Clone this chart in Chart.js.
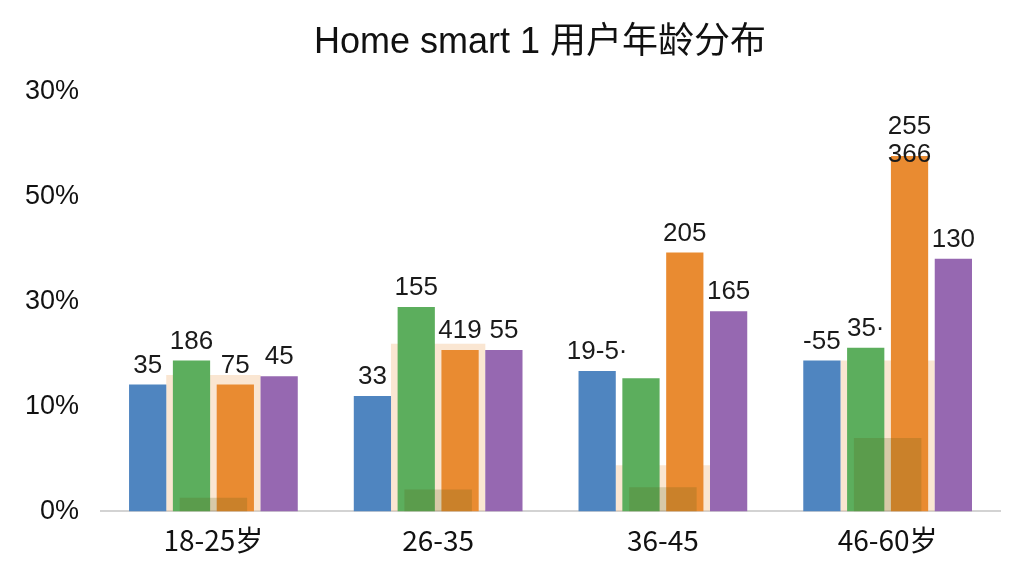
<!DOCTYPE html>
<html><head><meta charset="utf-8">
<script src="https://cdn.jsdelivr.net/npm/chart.js@4.4.1/dist/chart.umd.min.js"></script>
<style>html,body{margin:0;padding:0;background:#fff}#wrap{width:1024px;height:576px}</style>
</head><body><div id="wrap"><canvas id="c" width="1024" height="576"></canvas></div>
<script>
const titleText = "Home smart 1 用户年龄分布";
const categories = ["18-25岁", "26-35", "36-45", "46-60岁"];
const yTickLabels = ["0%", "10%", "30%", "50%", "30%"];
const blueValues = [12.1, 11.0, 13.4, 14.4];
const greenValues = [14.4, 19.5, 12.7, 15.6];
const orangeValues = [12.1, 15.4, 24.7, 33.9];
const purpleValues = [12.9, 15.4, 19.1, 24.1];
const peachValues = [13.0, 16.0, 4.4, 14.4];
const shadeValues = [1.3, 2.1, 2.3, 7.0];
const blueLabels = ["35", "33", "19-5·", "-55"];
const greenLabels = ["186", "155", "", "35·"];
const orangeLabels = [["75"], ["419"], ["205"], ["255", "366"]];
const purpleLabels = ["45", "55", "165", "130"];

const SANS = "'Liberation Sans', Arial, 'Noto Sans CJK SC', sans-serif";
const NARROW = "'Liberation Sans Narrow', 'Arial Narrow', 'Noto Sans CJK SC', sans-serif";

const titlePlugin = {
  id: 'ownTitle',
  afterDraw(chart) {
    const ctx = chart.ctx;
    ctx.save();
    ctx.font = "36px " + SANS;
    ctx.fillStyle = "#111";
    ctx.textAlign = "center";
    ctx.textBaseline = "middle";
    ctx.fillText(titleText, 540, 43);
    ctx.restore();
  }
};

const labelPlugin = {
  id: 'barLabels',
  afterDatasetsDraw(chart) {
    const ctx = chart.ctx;
    ctx.save();
    ctx.font = "26px " + SANS;
    ctx.fillStyle = "#1a1a1a";
    ctx.textAlign = "center";
    ctx.textBaseline = "middle";
    chart.data.datasets.forEach((ds, di) => {
      if (!ds.valueLabels) return;
      const meta = chart.getDatasetMeta(di);
      meta.data.forEach((bar, i) => {
        let lab = ds.valueLabels[i];
        if (!lab) return;
        if (!Array.isArray(lab)) lab = [lab];
        const n = lab.length;
        const base = n > 1 ? 1 : 19;
        lab.forEach((t, k) => {
          ctx.fillText(t, bar.x, bar.y - base - (n - 1 - k) * 28);
        });
      });
    });
    ctx.restore();
  }
};

new Chart(document.getElementById('c'), {
  type: 'bar',
  data: {
    labels: categories,
    datasets: [
      {label: 'a', data: blueValues, backgroundColor: '#4f85c0', valueLabels: blueLabels, order: 1},
      {label: 'b', data: greenValues, backgroundColor: '#5cae5d', valueLabels: greenLabels, order: 1},
      {label: 'c', data: orangeValues, backgroundColor: '#e98b31', valueLabels: orangeLabels, order: 1},
      {label: 'd', data: purpleValues, backgroundColor: '#9668b1', valueLabels: purpleLabels, order: 1},
      {label: 'e', data: peachValues, backgroundColor: 'rgba(243,200,155,0.45)', grouped: false, barPercentage: 0.42, categoryPercentage: 1, order: 5},
      {label: 'f', data: shadeValues, backgroundColor: 'rgba(90,95,20,0.22)', grouped: false, barPercentage: 0.3, categoryPercentage: 1, order: 0}
    ]
  },
  options: {
    responsive: false,
    animation: false,
    devicePixelRatio: 1,
    categoryPercentage: 0.78,
    barPercentage: 0.85,
    layout: {padding: {left: 3, right: 24, top: 92, bottom: 7}},
    plugins: {
      legend: {display: false},
      tooltip: {enabled: false},
      title: {display: false}
    },
    scales: {
      x: {
        grid: {display: false, drawTicks: false},
        border: {display: true, color: '#d3d3d3', width: 2},
        ticks: {color: '#111', font: {family: NARROW, size: 28}, padding: 12}
      },
      y: {
        min: 0, max: 40,
        grid: {display: false, drawTicks: false},
        border: {display: false},
        ticks: {
          stepSize: 10,
          color: '#111',
          font: {family: SANS, size: 27},
          padding: 22,
          callback: (v, i) => yTickLabels[i]
        }
      }
    }
  },
  plugins: [labelPlugin, titlePlugin]
});
</script>
</body></html>
